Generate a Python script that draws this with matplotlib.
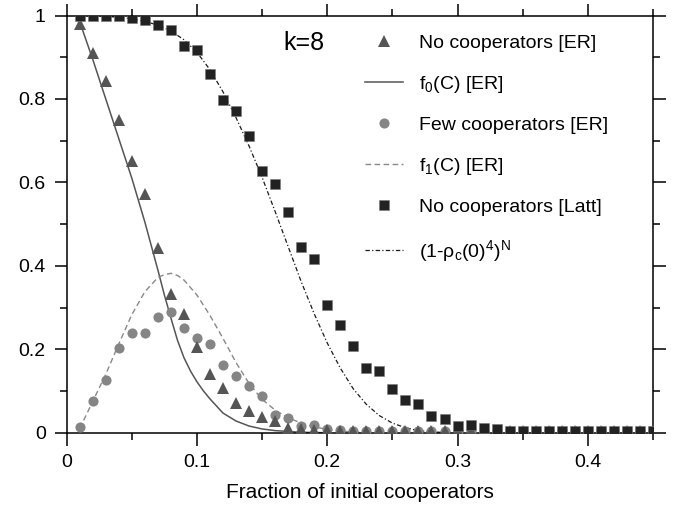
import numpy as np
import matplotlib.pyplot as plt
from matplotlib.ticker import MultipleLocator

plt.rcParams['font.family'] = ['Liberation Sans', 'DejaVu Sans']
plt.rcParams['mathtext.fontset'] = 'custom'
plt.rcParams['mathtext.rm'] = 'Liberation Sans'
plt.rcParams['mathtext.it'] = 'Liberation Sans'
plt.rcParams['mathtext.default'] = 'regular'

# fraction of initial cooperators used in the simulations
frac = [0.01, 0.02, 0.03, 0.04, 0.05, 0.06, 0.07, 0.08, 0.09, 0.10,
        0.11, 0.12, 0.13, 0.14, 0.15, 0.16, 0.17, 0.18, 0.19, 0.20,
        0.21, 0.22, 0.23, 0.24, 0.25, 0.26, 0.27, 0.28, 0.29, 0.30,
        0.31, 0.32, 0.33, 0.34, 0.35, 0.36, 0.37, 0.38, 0.39, 0.40,
        0.41, 0.42, 0.43, 0.44, 0.45]

# no cooperators left, ER graph
no_coop_er = [0.980, 0.911, 0.842, 0.749, 0.652, 0.572, 0.442, 0.333, 0.284, 0.205,
              0.141, 0.107, 0.071, 0.053, 0.038, 0.027, 0.012, 0.009, 0.007, 0.006,
              0.005, 0.004, 0.004, 0.004, 0.004, 0.004, 0.004, 0.004, 0.004, 0.004,
              0.003, 0.003, 0.003, 0.003, 0.003, 0.003, 0.003, 0.003, 0.003, 0.003,
              0.003, 0.003, 0.003, 0.003, 0.003]

# few cooperators left, ER graph
few_coop_er = [0.014, 0.077, 0.127, 0.202, 0.238, 0.238, 0.277, 0.290, 0.252, 0.226,
               0.212, 0.163, 0.137, 0.111, 0.087, 0.043, 0.035, 0.015, 0.018, 0.008,
               0.006, 0.005, 0.004, 0.004, 0.004, 0.004, 0.004, 0.004, 0.004, 0.004,
               0.003, 0.003, 0.003, 0.003, 0.003, 0.003, 0.003, 0.003, 0.003, 0.003,
               0.003, 0.003, 0.003, 0.003, 0.003]

# no cooperators left, lattice
no_coop_latt = [0.999, 0.999, 0.999, 0.998, 0.995, 0.990, 0.977, 0.966, 0.926, 0.917,
                0.861, 0.797, 0.771, 0.711, 0.627, 0.597, 0.529, 0.445, 0.417, 0.306,
                0.257, 0.209, 0.155, 0.149, 0.105, 0.078, 0.069, 0.039, 0.033, 0.015,
                0.018, 0.011, 0.008, 0.005, 0.004, 0.003, 0.003, 0.003, 0.003, 0.003,
                0.003, 0.003, 0.003, 0.003, 0.003]

# theory curves
f0_x = [0.01, 0.02, 0.03, 0.04, 0.05, 0.06, 0.07, 0.075, 0.08, 0.085, 0.09, 0.095,
        0.10, 0.105, 0.11, 0.12, 0.13, 0.14, 0.15, 0.16, 0.17, 0.18, 0.20]
f0_y = [0.985, 0.895, 0.800, 0.705, 0.610, 0.505, 0.390, 0.330, 0.275, 0.222, 0.180, 0.148,
        0.122, 0.100, 0.081, 0.047, 0.028, 0.016, 0.009, 0.005, 0.003, 0.001, 0.0]

f1_x = [0.01, 0.02, 0.03, 0.04, 0.05, 0.06, 0.07, 0.075, 0.08, 0.085, 0.09, 0.10,
        0.11, 0.12, 0.13, 0.14, 0.15, 0.16, 0.17, 0.18, 0.19, 0.20, 0.21, 0.22, 0.23]
f1_y = [0.010, 0.075, 0.140, 0.213, 0.283, 0.338, 0.372, 0.379, 0.382, 0.377, 0.366, 0.330,
        0.281, 0.226, 0.168, 0.118, 0.080, 0.054, 0.036, 0.023, 0.014, 0.008, 0.004, 0.002, 0.0]

latt_x = [0.01, 0.02, 0.03, 0.04, 0.05, 0.06, 0.07, 0.08, 0.09, 0.10,
          0.11, 0.12, 0.13, 0.14, 0.15, 0.16, 0.17, 0.18, 0.19, 0.20,
          0.21, 0.22, 0.23, 0.24, 0.25, 0.26, 0.27, 0.28, 0.29, 0.30]
latt_y = [1.0, 0.999, 0.998, 0.996, 0.992, 0.986, 0.977, 0.963, 0.942, 0.912,
          0.870, 0.817, 0.755, 0.687, 0.612, 0.530, 0.446, 0.362, 0.285, 0.215,
          0.155, 0.105, 0.068, 0.041, 0.023, 0.012, 0.005, 0.002, 0.0005, 0.0]

xticks_lab = [0, 0.1, 0.2, 0.3, 0.4]
xticks_txt = ['0', '0.1', '0.2', '0.3', '0.4']
yticks_lab = [0, 0.2, 0.4, 0.6, 0.8, 1.0]
yticks_txt = ['0', '0.2', '0.4', '0.6', '0.8', '1']

fig = plt.figure(figsize=(6.79, 5.11), dpi=100)
ax = fig.add_axes([0.0982, 0.1532, 0.8635, 0.8164])

l_f0, = ax.plot(f0_x, f0_y, color='#555555', lw=1.1, zorder=2)
l_f1, = ax.plot(f1_x, f1_y, color='#888888', lw=1.0, ls=(0, (4, 2.5)), zorder=2)
l_latt, = ax.plot(latt_x, latt_y, color='#1a1a1a', lw=0.9, ls=(0, (3.5, 1.8, 1, 1.8)), zorder=2)

m_circ, = ax.plot(frac, few_coop_er, 'o', color='#858585', ms=7.3, mew=0, zorder=3)
m_tri, = ax.plot(frac, no_coop_er, '^', color='#555555', ms=8.6, mew=0, zorder=4)
m_sq, = ax.plot(frac, no_coop_latt, 's', color='#222222', ms=7.4, mew=0.4, mec='#777777', zorder=5)

ax.set_xlim(0, 0.45)
ax.set_ylim(0, 1)
ax.set_xticks(xticks_lab)
ax.set_xticklabels(xticks_txt)
ax.set_yticks(yticks_lab)
ax.set_yticklabels(yticks_txt)
ax.xaxis.set_minor_locator(MultipleLocator(0.05))
ax.yaxis.set_minor_locator(MultipleLocator(0.1))
ax.tick_params(which='both', direction='out', top=True, right=True, width=1.1,
               labelsize=14, pad=6)
ax.tick_params(which='major', length=9)
ax.tick_params(which='minor', length=5)
for sp in ax.spines.values():
    sp.set_linewidth(1.1)

ax.set_xlabel('Fraction of initial cooperators', fontsize=15, labelpad=9)

ax.text(0.369, 0.933, 'k=8', transform=ax.transAxes, fontsize=18, va='center')

handles = [m_tri, l_f0, m_circ, l_f1, m_sq, l_latt]
labels = ['No cooperators [ER]', 'f$_0$(C) [ER]', 'Few cooperators [ER]',
          'f$_1$(C) [ER]', 'No cooperators [Latt]', '(1-ρ$_c$(0)$^4$)$^N$']
ax.legend(handles, labels, loc='upper left', bbox_to_anchor=(0.508, 0.955),
          frameon=False, fontsize=14, handlelength=2.0, handletextpad=0.8,
          labelspacing=1.12, borderpad=0, borderaxespad=0, numpoints=1)

fig.savefig('out.png', dpi=100)
